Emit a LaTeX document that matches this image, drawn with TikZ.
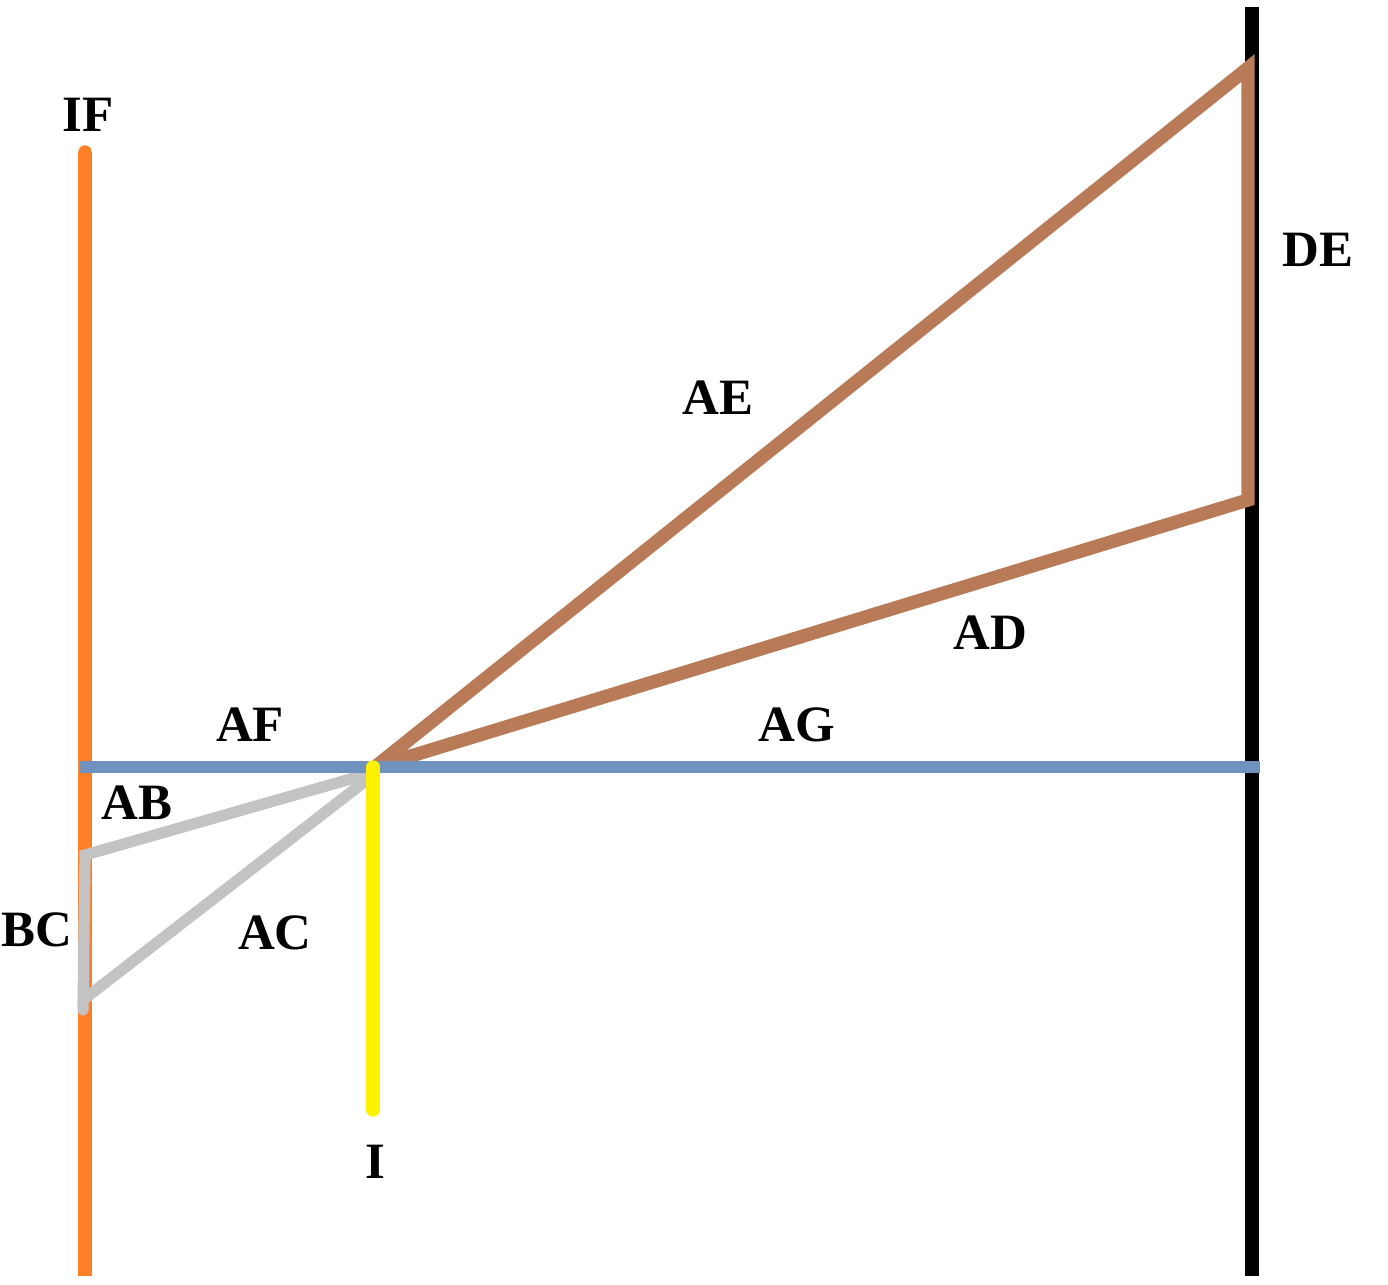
\documentclass[tikz,border=0pt]{standalone}
\usepackage{fontspec}
\setmainfont{Liberation Serif}
\usetikzlibrary{positioning}
\definecolor{paintorange}{RGB}{255,127,39}
\definecolor{paintbrown}{RGB}{185,122,87}
\definecolor{paintblue}{RGB}{112,146,190}
\definecolor{paintgray}{RGB}{195,195,195}
\definecolor{paintyellow}{RGB}{255,242,0}

\begin{document}
\begin{tikzpicture}[
  every node/.style = {font=\fontsize{14.5}{16}\selectfont\bfseries, inner sep=1pt},
  seg/.style = {line width=3.8pt, line cap=butt},
  thinseg/.style = {line width=3.2pt, line cap=round, line join=miter, color=paintgray},
  >=latex
]
  \useasboundingbox (0,0) rectangle (13.88,12.84);

  % points
  \coordinate (ifTop) at (0.85,11.32);
  \coordinate (ifBot) at (0.85,0.08);
  \coordinate (wallTop) at (12.52,12.77);
  \coordinate (wallBot) at (12.52,0.08);
  \coordinate (F) at (0.80,5.17);
  \coordinate (G) at (12.60,5.17);
  \coordinate (A) at (3.75,5.17);
  \coordinate (Itop) at (3.73,5.17);
  \coordinate (Ibot) at (3.73,1.74);
  \coordinate (E) at (12.48,12.16);
  \coordinate (D) at (12.48,7.84);
  \coordinate (B) at (0.85,4.29);
  \coordinate (C) at (0.83,2.84);

  % lines
  \draw[seg, paintorange] (ifTop) -- (ifBot);
  \fill[paintorange] (ifTop) circle (1.9pt);
  \draw[seg, black] (wallTop) -- (wallBot);
  \draw[seg, paintbrown, line join=miter] (A) -- (E) -- (D) -- cycle;
  \draw[thinseg] (3.68,5.10) -- (B) -- (0.83,2.74);
  \draw[thinseg, line cap=butt] (3.68,5.05) -- (C);
  \draw[seg, paintblue, line width=3.4pt] (F) -- (G);
  \draw[seg, paintyellow, line cap=round] (Itop) -- (Ibot);

  % labels
  \node (lIF) at (0.88,11.69) {IF};
  \node (lDE) at (13.18,10.34) {DE};
  \node (lAE) at (7.18,8.86) {AE};
  \node (lAD) at (9.90,6.51) {AD};
  \node (lAF) at (2.50,5.59) {AF};
  \node (lAG) at (7.97,5.59) {AG};
  \node (lAB) at (1.37,4.81) {AB};
  \node (lBC) at (0.37,3.54) {BC};
  \node (lAC) at (2.75,3.51) {AC};
  \node (lI) at (3.75,1.22) {I};
\end{tikzpicture}
\end{document}
